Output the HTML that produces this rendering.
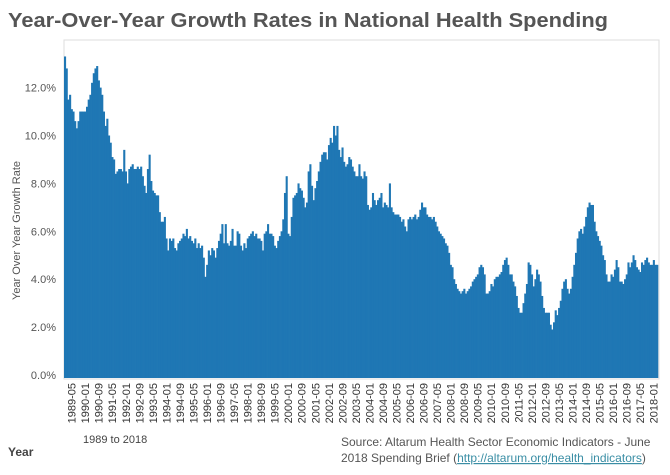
<!DOCTYPE html>
<html><head><meta charset="utf-8"><style>
body{margin:0;background:#fff;}
svg{display:block;font-family:"Liberation Sans",sans-serif;}
</style></head><body>
<svg id="chart" width="670" height="475">
<text x="8" y="27" font-size="20" font-weight="bold" fill="#555" textLength="600" lengthAdjust="spacingAndGlyphs">Year-Over-Year Growth Rates in National Health Spending</text>
<rect x="64" y="40" width="595" height="339" fill="none" stroke="#ddd"/>
<g id="bars"></g>
<g id="yticks"></g>
<g id="xticks"></g>
<text transform="translate(20,300) rotate(-90)" font-size="11" fill="#555">Year Over Year Growth Rate</text>
<text x="8" y="456" font-size="12" font-weight="bold" fill="#444">Year</text>
<text x="83" y="443" font-size="11" fill="#444">1989 to 2018</text>
<text x="341" y="446" font-size="12" fill="#555">Source: Altarum Health Sector Economic Indicators - June</text>
<text x="341" y="462" font-size="12" fill="#555">2018 Spending Brief (<tspan fill="#3a8ea5" text-decoration="underline">http://altarum.org/health_indicators</tspan>)</text>
</svg>
<script>
const startYear = 1989;
const values = [
13.3,12.8,11.5,11.7,11.1,11.0,10.6,10.3,10.6,11.0,11.0,11.0,
11.0,11.2,11.5,11.7,12.2,12.6,12.8,12.9,12.3,12.0,11.7,11.0,
10.4,10.7,10.0,9.7,9.1,9.0,8.4,8.5,8.6,8.6,8.5,9.4,
8.5,8.0,8.6,8.7,8.8,8.6,8.6,8.7,8.6,8.7,8.3,7.9,
7.6,8.6,9.2,8.1,7.7,7.6,7.5,7.5,6.8,6.4,6.4,6.6,
5.7,5.2,5.7,5.6,5.7,5.3,5.2,5.5,5.6,5.7,5.9,5.8,
6.1,5.7,5.8,5.6,5.5,5.7,5.3,5.5,5.3,5.4,4.9,4.1,
4.6,5.2,5.0,5.3,5.2,4.9,5.3,5.6,5.9,6.3,5.5,6.3,
5.5,5.4,5.6,6.1,5.4,5.4,6.0,5.9,5.4,5.2,5.5,5.3,
5.7,5.8,5.9,6.0,5.8,5.9,5.7,5.7,5.6,5.2,5.9,6.0,
6.3,5.9,5.9,5.8,5.4,5.3,5.6,5.8,6.0,6.5,7.6,8.3,
5.9,5.8,6.6,7.4,7.5,7.6,8.0,7.8,7.7,7.4,7.0,7.2,
8.5,8.8,7.9,7.3,7.8,8.1,8.5,8.9,9.2,9.3,9.3,9.0,
9.6,9.9,9.7,10.4,10.0,10.4,9.4,9.1,9.5,8.9,8.7,8.8,
9.1,9.0,8.7,8.5,8.3,8.3,8.8,8.3,8.2,8.5,8.3,7.1,
6.9,7.0,7.6,7.3,7.1,7.3,7.4,7.6,7.0,7.2,7.1,7.0,
8.0,7.0,6.8,6.7,6.7,6.7,6.6,6.4,6.5,6.2,6.0,6.5,
6.6,6.5,6.6,6.7,6.5,6.6,6.9,7.2,7.0,7.0,6.7,6.6,
6.6,6.5,6.6,6.4,6.2,6.0,5.9,5.8,5.7,5.5,5.4,5.1,
4.6,4.5,4.0,3.8,3.6,3.5,3.4,3.5,3.6,3.4,3.5,3.6,
3.7,3.9,4.0,4.1,4.2,4.5,4.6,4.5,4.2,3.4,3.4,3.5,
3.8,3.7,4.0,4.1,4.1,4.2,4.3,4.6,4.8,4.9,4.6,4.2,
4.2,3.9,3.7,3.3,2.8,2.6,2.6,3.0,3.4,3.8,4.7,4.6,
4.2,3.7,4.0,4.4,4.2,3.9,3.3,2.8,2.6,2.6,2.6,2.1,
1.9,2.2,2.7,2.5,2.8,3.1,3.6,3.9,4.0,3.6,3.4,3.6,
4.1,4.6,5.1,5.7,6.0,6.1,5.9,6.2,6.6,7.0,7.2,7.1,
7.1,6.4,6.0,5.8,5.6,5.4,5.0,4.8,4.2,3.9,3.9,4.2,
4.1,4.4,4.8,4.5,3.9,3.9,3.8,4.0,4.2,4.7,4.5,4.7,
5.0,4.8,4.5,4.4,4.3,4.7,4.6,4.8,4.9,4.7,4.6,4.6,
4.8,4.6,4.6
];
const yTicks = [0,2,4,6,8,10,12];
const NS="http://www.w3.org/2000/svg";
const x0=64, step=1.692, yBase=375, pxPerPct=23.95;
const xPos=i=>x0+i*step;
const yPos=v=>yBase-v*pxPerPct;
const bars=document.getElementById('bars');
values.forEach((v,i)=>{
  const r=document.createElementNS(NS,'rect');
  r.setAttribute('x',xPos(i));
  r.setAttribute('y',yPos(v));
  r.setAttribute('width',step+0.4);
  r.setAttribute('height',yPos(0)-yPos(v)+3);
  r.setAttribute('fill','#1f77b4');
  
  
  bars.appendChild(r);
});
const yg=document.getElementById('yticks');
yTicks.forEach(t=>{
  const tx=document.createElementNS(NS,'text');
  tx.setAttribute('x',56);tx.setAttribute('y',yPos(t)+4);
  tx.setAttribute('text-anchor','end');tx.setAttribute('font-size','11');tx.setAttribute('fill','#555');
  tx.textContent=t.toFixed(1)+'%';
  
  
  yg.appendChild(tx);
});
const xg=document.getElementById('xticks');
for(let i=4;i<values.length;i+=8){
  const y=startYear+Math.floor(i/12), m=i%12+1;
  const lab=y+'-'+String(m).padStart(2,'0');
  const cx=xPos(i)+step/2;
  const tx=document.createElementNS(NS,'text');
  tx.setAttribute('transform','translate('+(cx+4)+',383) rotate(-90)');
  tx.setAttribute('text-anchor','end');tx.setAttribute('font-size','11');tx.setAttribute('fill','#333');
  tx.textContent=lab;
  
  
  xg.appendChild(tx);
}
</script>
</body></html>
